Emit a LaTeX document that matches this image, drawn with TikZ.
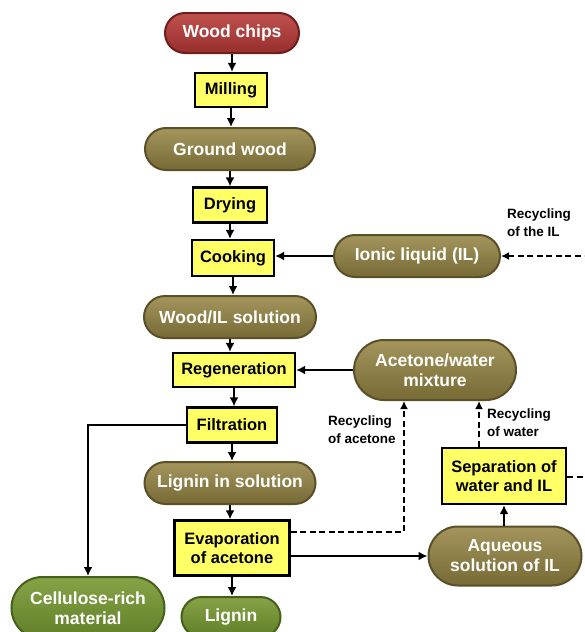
\documentclass[tikz,border=0pt]{standalone}
\usepackage{fontspec}
\setmainfont{Liberation Sans}
\usetikzlibrary{arrows.meta,shapes.misc}
\definecolor{oliveT}{HTML}{A3955C}
\definecolor{oliveB}{HTML}{776A35}
\definecolor{oliveR}{HTML}{5A5028}
\definecolor{redT}{HTML}{C0524F}
\definecolor{redB}{HTML}{962E2C}
\definecolor{redR}{HTML}{6E1E1C}
\definecolor{greenT}{HTML}{86A347}
\definecolor{greenB}{HTML}{607F27}
\definecolor{greenR}{HTML}{46601A}
\definecolor{boxY}{HTML}{FFFF66}
\tikzset{
  pill/.style={rounded rectangle, line width=2pt, text=white, font=\fontsize{17.5}{20}\selectfont\bfseries, align=center, inner sep=2pt},
  olivepill/.style={pill, draw=oliveR, top color=oliveT, bottom color=oliveB},
  redpill/.style={pill, draw=redR, top color=redT, bottom color=redB},
  greenpill/.style={pill, draw=greenR, top color=greenT, bottom color=greenB},
  stepbox/.style={rectangle, draw=black, line width=2.2pt, fill=boxY, font=\fontsize{16.5}{19}\selectfont\bfseries, align=center, inner sep=2pt},
  flow/.style={line width=2.5pt, -{Latex[length=9pt,width=9pt]}},
  recyc/.style={line width=2pt, dash pattern=on 6pt off 3.5pt, -{Latex[length=8pt,width=8pt]}},
  note/.style={font=\fontsize{13.5}{18}\selectfont\bfseries, align=left, inner sep=0pt}
}
\begin{document}
\begin{tikzpicture}[x=1pt,y=-1pt]
\useasboundingbox (0,0) rectangle (584,632);
\clip (0,0) rectangle (584,632);
% main line
\node[redpill, minimum width=138pt, minimum height=40pt] (chips) at (232,33) {Wood chips};
\node[stepbox, minimum width=72pt, minimum height=34pt] (mill) at (231,90) {Milling};
\node[olivepill, minimum width=174pt, minimum height=42pt] (ground) at (230,149) {Ground wood};
\node[stepbox, minimum width=74pt, minimum height=35pt] (dry) at (230,205) {Drying};
\node[stepbox, minimum width=82pt, minimum height=36pt] (cook) at (233,258) {Cooking};
\node[olivepill, minimum width=176pt, minimum height=42pt] (wil) at (230,317) {Wood/IL solution};
\node[stepbox, minimum width=122pt, minimum height=34pt] (regen) at (234,370) {Regeneration};
\node[stepbox, minimum width=90pt, minimum height=35pt] (filt) at (232,425) {Filtration};
\node[olivepill, minimum width=175pt, minimum height=42pt] (lsol) at (230,483) {Lignin in solution};
\node[stepbox, minimum width=115pt, minimum height=55pt] (evap) at (232,548) {Evaporation\\of acetone};
\node[greenpill, minimum width=103pt, minimum height=40pt] (lig) at (231,617) {Lignin};
\node[greenpill, minimum width=157pt, minimum height=62pt] (cell) at (88,608) {Cellulose-rich\\material};
% recycling side
\node[olivepill, minimum width=170pt, minimum height=42pt] (il) at (417,256) {Ionic liquid (IL)};
\node[olivepill, minimum width=166pt, minimum height=60pt] (acw) at (435,370) {Acetone/water\\mixture};
\node[olivepill, minimum width=157pt, minimum height=59pt] (aq) at (505,556) {Aqueous\\solution of IL};
\node[stepbox, minimum width=124pt, minimum height=56pt] (sep) at (504,476) {Separation of\\water and IL};
\coordinate (ilin) at (590,256);
\coordinate (sepout) at (590,477);
% labels
\node[note, anchor=west] (lblil) at (507,223) {Recycling\\of the IL};
\node[note, anchor=west] (lblac) at (328,430) {Recycling\\of acetone};
\node[note, anchor=west] (lblw) at (487,423) {Recycling\\of water};
% arrows
\foreach \a/\b in {chips/mill,mill/ground,ground/dry,dry/cook,cook/wil,wil/regen,regen/filt,filt/lsol,lsol/evap,evap/lig}
  \draw[flow] (\a.south) -- (\a.south |- \b.north);
\draw[flow] (il.west) -- (il.west -| cook.east);
\draw[flow] (acw.west) -- (regen.east);
\draw[flow] (filt.west) -| (cell.north);
\draw[flow] (evap.east |- aq.west) -- (aq.west);
\draw[flow] (aq.north -| sep.south) -- (sep.south);
\draw[recyc] (ilin) -- (il.east);
\draw[recyc] ([yshift=16pt]evap.east) -| ([xshift=-31pt]acw.south);
\draw[recyc] ([xshift=-25pt]sep.north) -- ([xshift=-25pt]sep.north |- acw.south);
\draw[recyc, -] (sep.east |- sepout) -- (sepout);
\end{tikzpicture}
\end{document}
